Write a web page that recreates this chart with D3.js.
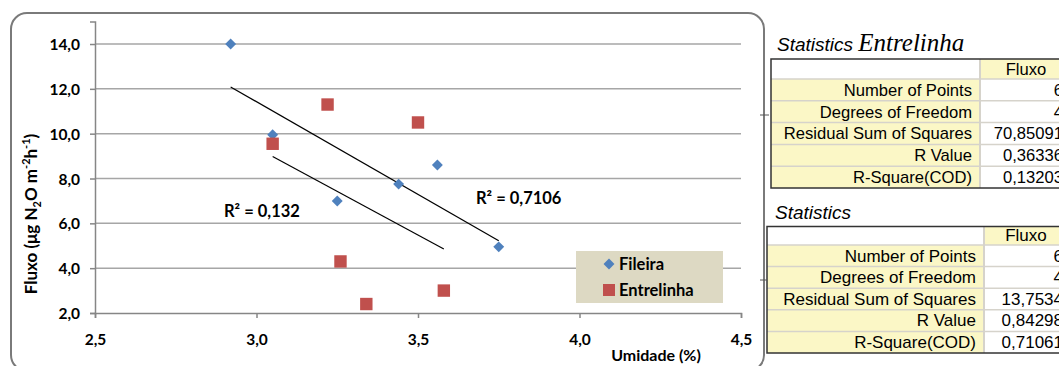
<!DOCTYPE html>
<html>
<head>
<meta charset="utf-8">
<script src="https://cdn.jsdelivr.net/npm/d3@7"></script>
<style>
  html, body { margin: 0; padding: 0; background: #ffffff; }
  svg { display: block; }
</style>
</head>
<body>
<svg id="chart" width="1059" height="366"></svg>
<script>
// Humidity (%) vs N2O flux, two sampling positions
const fileiraX = [2.92, 3.05, 3.25, 3.44, 3.56, 3.75];
const fileiraY = [14.0, 9.95, 7.0, 7.75, 8.6, 4.95];
const entrelinhaX = [3.05, 3.22, 3.50, 3.26, 3.34, 3.58];
const entrelinhaY = [9.55, 11.3, 10.5, 4.3, 2.4, 3.0];

const xTicks = [2.5, 3.0, 3.5, 4.0, 4.5];
const yTicks = [2, 4, 6, 8, 10, 12, 14];

const r2Labels = ["R² = 0,7106", "R² = 0,132"];
const legendLabels = ["Fileira", "Entrelinha"];

// Regression summary tables
const statRows = ["Number of Points", "Degrees of Freedom", "Residual Sum of Squares", "R Value", "R-Square(COD)"];
const statsEntrelinha = ["6", "4", "70,85091", "0,36336", "0,13203"];
const statsFileira = ["6", "4", "13,7534", "0,84298", "0,71061"];

const svg = d3.select("#chart");
const blue = "#4f81bd", red = "#c0504d";
const chartFont = "Lato, 'Open Sans', sans-serif";
const tableFont = "'Liberation Sans', Arial, sans-serif";

// Chart frame
svg.append("rect")
  .attr("x", 11).attr("y", 13).attr("width", 753).attr("height", 358)
  .attr("rx", 16).attr("ry", 16)
  .attr("fill", "#ffffff").attr("stroke", "#7a7a7a").attr("stroke-width", 2);

const x = d3.scaleLinear().domain([2.5, 4.5]).range([95, 741]);
const y = d3.scaleLinear().domain([2, 15]).range([313, 21.6]);

// Gridlines
svg.append("g").selectAll("line").data(yTicks.filter(d => d > 2)).join("line")
  .attr("x1", x(2.5)).attr("x2", x(4.5))
  .attr("y1", d => y(d)).attr("y2", d => y(d))
  .attr("stroke", "#a6a6a6").attr("stroke-width", 1.5);

const fmt = d => d.toFixed(1).replace(".", ",");

// Y axis
const yAxis = svg.append("g").attr("transform", `translate(${x(2.5)},0)`)
  .call(d3.axisLeft(y).tickValues(yTicks).tickSize(5).tickPadding(10).tickFormat(fmt));
// X axis
const xAxis = svg.append("g").attr("transform", `translate(0,${y(2)})`)
  .call(d3.axisBottom(x).tickValues(xTicks).tickSize(5).tickPadding(16).tickFormat(fmt));

[yAxis, xAxis].forEach(g => {
  g.select(".domain").attr("stroke", "#868686").attr("stroke-width", 1.5);
  g.selectAll(".tick line").attr("stroke", "#868686").attr("stroke-width", 1.5);
  g.selectAll(".tick text")
    .attr("font-family", chartFont).attr("font-weight", "bold")
    .attr("font-size", 15.5).attr("fill", "#000");
});
yAxis.selectAll(".tick text").attr("dy", "0.36em");

// Axis titles
const yTitle = svg.append("text")
  .attr("transform", "translate(37,214) rotate(-90)")
  .attr("text-anchor", "middle")
  .attr("font-family", chartFont).attr("font-weight", "bold").attr("font-size", 17)
  .attr("fill", "#000");
yTitle.append("tspan").text("Fluxo  (μg N");
yTitle.append("tspan").attr("font-size", 11).attr("dy", 4).text("2");
yTitle.append("tspan").attr("dy", -4).text("O m");
yTitle.append("tspan").attr("font-size", 11).attr("dy", -7).text("-2");
yTitle.append("tspan").attr("dy", 7).text("h");
yTitle.append("tspan").attr("font-size", 11).attr("dy", -7).text("-1");
yTitle.append("tspan").attr("dy", 7).text(")");

svg.append("text")
  .attr("x", 656).attr("y", 361)
  .attr("text-anchor", "middle")
  .attr("font-family", chartFont).attr("font-weight", "bold").attr("font-size", 16)
  .attr("fill", "#000").text("Umidade (%)");

// Linear trend lines (least squares) over each series' x range
function trend(xs, ys) {
  const mx = d3.mean(xs), my = d3.mean(ys);
  const sxy = d3.sum(xs, (v, i) => (v - mx) * (ys[i] - my));
  const sxx = d3.sum(xs, v => (v - mx) * (v - mx));
  const b = sxy / sxx, a = my - b * mx;
  const [x0, x1] = d3.extent(xs);
  return [[x0, a + b * x0], [x1, a + b * x1]];
}
const line = d3.line().x(d => x(d[0])).y(d => y(d[1]));
[trend(fileiraX, fileiraY), trend(entrelinhaX, entrelinhaY)].forEach(seg => {
  svg.append("path").attr("d", line(seg))
    .attr("fill", "none").attr("stroke", "#000").attr("stroke-width", 1.2);
});

// Points
const diamond = d3.symbol().type(d3.symbolDiamond2).size(76);
svg.append("g").selectAll("path").data(fileiraX.map((v, i) => [v, fileiraY[i]])).join("path")
  .attr("d", diamond)
  .attr("transform", d => `translate(${x(d[0])},${y(d[1])})`)
  .attr("fill", blue);
svg.append("g").selectAll("rect").data(entrelinhaX.map((v, i) => [v, entrelinhaY[i]])).join("rect")
  .attr("x", d => x(d[0]) - 6.2).attr("y", d => y(d[1]) - 6.2)
  .attr("width", 12.4).attr("height", 12.4)
  .attr("fill", red);

// R² annotations
svg.append("text").attr("x", 476).attr("y", 204)
  .attr("font-family", chartFont).attr("font-weight", "bold").attr("font-size", 16.5)
  .attr("fill", "#000").text(r2Labels[0]);
svg.append("text").attr("x", 224).attr("y", 217)
  .attr("font-family", chartFont).attr("font-weight", "bold").attr("font-size", 16.5)
  .attr("fill", "#000").text(r2Labels[1]);

// Legend
svg.append("rect").attr("x", 576).attr("y", 251).attr("width", 147).attr("height", 52)
  .attr("fill", "#ddd9c3");
svg.append("path").attr("d", diamond).attr("transform", "translate(609,264)").attr("fill", blue);
svg.append("rect").attr("x", 603).attr("y", 284).attr("width", 12).attr("height", 12).attr("fill", red);
legendLabels.forEach((t, i) => {
  svg.append("text").attr("x", 619).attr("y", 270 + i * 26)
    .attr("font-family", chartFont).attr("font-weight", "bold").attr("font-size", 16.5)
    .attr("fill", "#000").text(t);
});

// Statistics tables
function statTable(opts) {
  const g = svg.append("g");
  const { left, top, div, headH, rowH, values, fs } = opts;
  const right = 1075;
  const bottom = top + headH + rowH * statRows.length;
  // header
  g.append("rect").attr("x", left).attr("y", top).attr("width", div - left).attr("height", headH).attr("fill", "#ffffff");
  g.append("rect").attr("x", div).attr("y", top).attr("width", right - div).attr("height", headH).attr("fill", "#fbf7c6");
  g.append("text").attr("x", 1026).attr("y", top + headH - 4.5)
    .attr("text-anchor", "middle").attr("font-family", tableFont).attr("font-size", fs)
    .attr("fill", "#000").text("Fluxo");
  statRows.forEach((r, i) => {
    const ry = top + headH + i * rowH;
    g.append("rect").attr("x", left).attr("y", ry).attr("width", div - left).attr("height", rowH).attr("fill", "#fbf7c6");
    g.append("rect").attr("x", div).attr("y", ry).attr("width", right - div).attr("height", rowH).attr("fill", "#ffffff");
    g.append("line").attr("x1", left).attr("x2", right).attr("y1", ry).attr("y2", ry)
      .attr("stroke", "#d6d3cb").attr("stroke-width", 1.5);
    g.append("text").attr("x", div - 8).attr("y", ry + rowH - 5)
      .attr("text-anchor", "end").attr("font-family", tableFont).attr("font-size", fs)
      .attr("fill", "#000").text(r);
    g.append("text").attr("x", 1063).attr("y", ry + rowH - 5)
      .attr("text-anchor", "end").attr("font-family", tableFont).attr("font-size", fs)
      .attr("fill", "#000").text(values[i]);
  });
  g.append("line").attr("x1", div).attr("x2", div).attr("y1", top).attr("y2", bottom)
    .attr("stroke", "#d6d3cb").attr("stroke-width", 2);
  g.append("rect").attr("x", left).attr("y", top).attr("width", right - left).attr("height", bottom - top)
    .attr("fill", "none").attr("stroke", "#333").attr("stroke-width", 1.5);
}

const t1 = svg.append("text").attr("x", 777).attr("y", 51).attr("fill", "#000");
t1.append("tspan").attr("font-family", tableFont).attr("font-style", "italic").attr("font-size", 19).text("Statistics ");
t1.append("tspan").attr("font-family", "'Liberation Serif', 'Times New Roman', serif")
  .attr("font-style", "italic").attr("font-size", 25).text("Entrelinha");
statTable({ left: 771, top: 59, div: 980, headH: 20, rowH: 21.8, values: statsEntrelinha, fs: 16.6 });

svg.append("text").attr("x", 775).attr("y", 219).attr("fill", "#000")
  .attr("font-family", tableFont).attr("font-style", "italic").attr("font-size", 19).text("Statistics");
statTable({ left: 767, top: 226.5, div: 984, headH: 18.5, rowH: 21.6, values: statsFileira, fs: 17 });

// Small edge ticks of the adjoining panel
svg.append("line").attr("x1", 760).attr("x2", 769).attr("y1", 115).attr("y2", 115).attr("stroke", "#555");
svg.append("line").attr("x1", 760).attr("x2", 767).attr("y1", 280).attr("y2", 280).attr("stroke", "#555");
</script>
</body>
</html>
